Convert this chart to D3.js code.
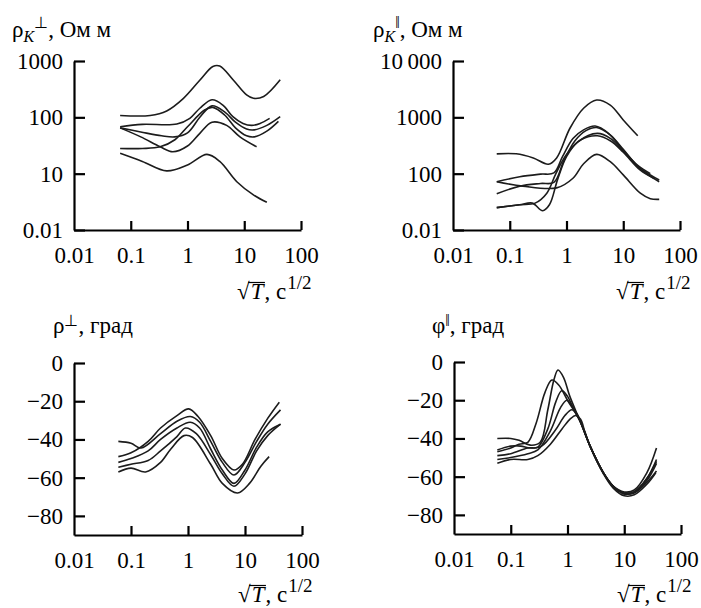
<!DOCTYPE html>
<html><head><meta charset="utf-8">
<script src="https://cdn.jsdelivr.net/npm/d3@7"></script>
</head><body style="margin:0;background:#fff">
<svg id="c" width="701" height="608"></svg>
<script>
// ---------- data ----------
const xTicks = [0.01, 0.1, 1, 10, 100];
const xTickLabels = ["0.01", "0.1", "1", "10", "100"];
const rhoPerpTicks = [1, 10, 100, 1000];
const rhoPerpTickLabels = ["0.01", "10", "100", "1000"];
const rhoParTicks = [10, 100, 1000, 10000];
const rhoParTickLabels = ["0.01", "100", "1000", "10\u2009000"];
const phaseTicks = [0, -20, -40, -60, -80];
const phaseTickLabels = ["0", "\u221220", "\u221240", "\u221260", "\u221280"];

// rho_K perpendicular (Ohm m) vs sqrt(T)
const rhoPerp1 = [[0.065,108],[0.22,108],[0.43,130],[0.84,215],[1.66,460],[2.8,800],[3.7,815],[6.4,460],[11,250],[14.5,218],[22,235],[43,465]];
const rhoPerp2 = [[0.065,68],[0.16,75],[0.65,76],[1.1,96],[1.65,145],[2.7,205],[4.2,165],[6.3,103],[9.5,78],[13.5,72],[19,78],[28,96]];
const rhoPerp3 = [[0.065,65],[0.15,55],[0.35,47],[0.6,45],[1.0,53],[1.65,100],[2.7,160],[4.5,125],[7,82],[11,62],[15,60],[25,72],[43,103]];
const rhoPerp4 = [[0.065,28],[0.16,28],[0.33,30],[0.6,40],[1.0,68],[2.0,135],[2.8,150],[4.5,110],[7,65],[11,47],[15,45],[25,57],[40,85]];
const rhoPerp5 = [[0.065,65],[0.15,45],[0.33,30],[0.55,24.5],[1.0,31],[1.65,52],[2.7,82],[4.9,72],[8.4,45],[16.5,30]];
const rhoPerp6 = [[0.065,23],[0.16,16.5],[0.43,11.2],[1.0,14.3],[2.2,22],[3.7,16.5],[7.4,7.2],[14.5,4.2],[25,3.1]];

// rho_K parallel (Ohm m)
const rhoPar1 = [[0.059,225],[0.13,225],[0.26,190],[0.48,147],[0.67,190],[1.15,640],[2.0,1450],[3.4,2030],[5.9,1650],[10,900],[18,470]];
const rhoPar2 = [[0.059,72],[0.15,88],[0.35,98],[0.6,103],[0.85,200],[1.3,420],[2,600],[3.2,700],[5.5,520],[10,260],[18,140],[30,100]];
const rhoPar3 = [[0.059,44],[0.15,60],[0.35,67],[0.6,70],[0.9,170],[1.4,380],[2.2,580],[3.4,660],[6,480],[10,270],[18,135],[30,95],[43,77]];
const rhoPar4 = [[0.059,25],[0.15,28],[0.25,30],[0.38,22],[0.5,28],[0.7,80],[1.0,200],[1.6,370],[3.5,520],[6,420],[10,250],[20,120],[43,72]];
const rhoPar5 = [[0.059,25],[0.15,28],[0.28,30],[0.45,45],[0.65,100],[1.0,220],[1.8,400],[3.5,470],[6,380],[10,240],[20,115],[35,82]];
const rhoPar6 = [[0.059,72],[0.17,60],[0.67,56],[1.3,83],[2.0,150],[3.4,220],[5.9,163],[10,95],[20,45],[30,36],[43,35]];

// phase perpendicular (deg)
const phiPerp1 = [[0.06,-49],[0.1,-47],[0.2,-41],[0.33,-34],[0.64,-27.5],[1.03,-24],[1.5,-28],[2.5,-38],[4,-50],[6.4,-56],[9,-53],[15,-40],[25,-29],[40,-20.5]];
const phiPerp2 = [[0.06,-41],[0.1,-42],[0.15,-44.5],[0.33,-37],[0.64,-30.5],[1.1,-28],[1.6,-31],[2.5,-41],[4,-52],[6.4,-58.6],[10,-52],[16,-41],[25,-32],[42,-24.5]];
const phiPerp3 = [[0.06,-52],[0.1,-50],[0.2,-46],[0.33,-40],[0.64,-34],[1.1,-31],[1.6,-34],[2.5,-45],[4,-56],[6.4,-63],[10,-56],[16,-44],[25,-36],[42,-32]];
const phiPerp4 = [[0.06,-54.5],[0.1,-53],[0.2,-51],[0.33,-46],[0.64,-38.5],[0.9,-34],[1.4,-37],[2.5,-48],[4,-58],[6.4,-64.5],[10,-58],[16,-46],[25,-38],[42,-32]];
const phiPerp5 = [[0.06,-57],[0.1,-55],[0.18,-57],[0.33,-52],[0.5,-45],[0.85,-38],[1.2,-39],[2.5,-53],[4,-63],[7.4,-68],[12,-63],[19,-54],[26.5,-49]];

// phase parallel (deg)
const phiPar1 = [[0.058,-40],[0.1,-40],[0.14,-41],[0.22,-43.5],[0.33,-42],[0.45,-25],[0.58,-9],[0.68,-4.2],[0.85,-8],[1.1,-18],[1.67,-31],[2.5,-44],[4.3,-58],[6.4,-65],[10,-68],[15,-67],[25,-58],[37,-45]];
const phiPar2 = [[0.058,-47],[0.1,-45],[0.14,-43],[0.2,-42],[0.28,-32],[0.4,-16],[0.53,-9.4],[0.7,-12],[1.0,-20],[1.67,-31],[2.5,-44],[4.3,-58],[6.4,-65.5],[10,-68.5],[15,-68],[25,-61],[37,-52]];
const phiPar3 = [[0.058,-49],[0.1,-48],[0.2,-45],[0.3,-44.5],[0.45,-35],[0.62,-21],[0.79,-15],[1.0,-18],[1.3,-25],[1.67,-31],[2.5,-44],[4.3,-58],[6.4,-65],[10,-69],[15,-68],[25,-61],[37,-51]];
const phiPar4 = [[0.058,-51],[0.1,-50],[0.2,-48],[0.3,-46],[0.5,-36],[0.75,-24],[0.97,-20],[1.2,-23],[1.67,-31],[2.5,-44],[4.3,-58.5],[6.4,-66],[10,-70],[15,-69.5],[25,-64],[36,-58]];
const phiPar5 = [[0.058,-46],[0.1,-44],[0.15,-44],[0.22,-45],[0.35,-44],[0.6,-36],[0.9,-28],[1.19,-25],[1.45,-27],[1.8,-33],[2.5,-44],[4.3,-58],[6.4,-65],[10,-69],[15,-68.5],[25,-63],[37,-57]];
const phiPar6 = [[0.058,-53],[0.1,-51],[0.2,-51],[0.3,-49],[0.5,-43],[0.8,-35],[1.1,-30],[1.4,-28],[1.7,-30],[2.0,-36],[2.5,-44],[4.3,-58],[6.4,-65],[10,-68.5],[15,-68],[25,-62],[37,-53]];

// titles (text segments)
const title1 = [{t:"ρ"},{t:"K",sub:1},{t:"⊥",sup:1},{t:", Ом м",back:1}];
const title2 = [{t:"ρ"},{t:"K",sub:1},{t:"‖",sup:1},{t:", Ом м",back:1}];
const title3 = [{t:"ρ"},{t:"⊥",sup2:1},{t:", град",back:1}];
const title4 = [{t:"φ"},{t:"‖",sup2:1},{t:", град",back:1}];

// ---------- layout ----------
const FONT = '"Liberation Serif"';
const FS = 23;
const panels = [
  {x0:74, x1:301, yTop:61, yBot:230, log:true, dom:[1,1000], ticks:rhoPerpTicks, labels:rhoPerpTickLabels,
   curves:[rhoPerp1,rhoPerp2,rhoPerp3,rhoPerp4,rhoPerp5,rhoPerp6], title:title1, tx:12, ty:37, lx:237, ly:299},
  {x0:453, x1:680, yTop:61, yBot:230, log:true, dom:[10,10000], ticks:rhoParTicks, labels:rhoParTickLabels,
   curves:[rhoPar1,rhoPar2,rhoPar3,rhoPar4,rhoPar5,rhoPar6], title:title2, tx:373, ty:37, lx:616, ly:299},
  {x0:74, x1:302, yTop:363, yBot:535, log:false, dom:[-90,0], ticks:phaseTicks, labels:phaseTickLabels,
   curves:[phiPerp1,phiPerp2,phiPerp3,phiPerp4,phiPerp5], title:title3, tx:53, ty:333, lx:238, ly:602},
  {x0:454, x1:681, yTop:362, yBot:534, log:false, dom:[-90,0], ticks:phaseTicks, labels:phaseTickLabels,
   curves:[phiPar1,phiPar2,phiPar3,phiPar4,phiPar5,phiPar6], title:title4, tx:432, ty:333, lx:617, ly:602}
];

const svg = d3.select("#c");

panels.forEach(p => {
  const g = svg.append("g");
  const xs = d3.scaleLog().domain([0.01,100]).range([p.x0,p.x1]);
  const ys = (p.log ? d3.scaleLog() : d3.scaleLinear()).domain(p.dom).range([p.yBot,p.yTop]);

  const line = d3.line().x(d=>xs(d[0])).y(d=>ys(d[1])).curve(d3.curveCatmullRom.alpha(0.5));
  g.append("g").selectAll("path").data(p.curves).join("path")
    .attr("d", line).attr("fill","none").attr("stroke","#1c1c1c").attr("stroke-width",1.6);

  const xa = g.append("g").attr("transform",`translate(0,${p.yBot})`)
    .call(d3.axisBottom(xs).tickValues(xTicks).tickFormat(d=>xTickLabels[xTicks.indexOf(d)])
      .tickSizeInner(-9).tickSizeOuter(0).tickPadding(17));
  const ya = g.append("g").attr("transform",`translate(${p.x0},0)`)
    .call(d3.axisLeft(ys).tickValues(p.ticks).tickFormat(d=>p.labels[p.ticks.indexOf(d)])
      .tickSizeInner(-11).tickSizeOuter(0).tickPadding(11));
  [xa,ya].forEach(a=>{
    a.attr("font-family",null).attr("font-size",null);
    a.selectAll("path,line").attr("stroke","#000").attr("stroke-width",2.2);
    a.selectAll("text").attr("fill","#000").attr("font-size",FS).style("font-family",FONT);
  });
  xa.selectAll(".tick").filter(d=>d===0.01).select("line").remove();

  // title
  const t = g.append("text").attr("x",p.tx).attr("y",p.ty).attr("font-size",FS)
    .style("font-family",FONT).attr("fill","#000");
  p.title.forEach(s=>{
    const ts = t.append("tspan").text(s.t);
    if (s.sub) ts.attr("font-size",16).attr("font-style","italic").attr("dy",5);
    else if (s.sup) ts.attr("font-size",16).attr("dy",-14);
    else if (s.sup2) ts.attr("font-size",16).attr("dy",-7);
    else if (s.back) ts.attr("y",p.ty);
  });

  // x label: sqrt(T), c^{1/2}
  const xl = g.append("text").attr("x",p.lx).attr("y",p.ly).attr("font-size",FS)
    .style("font-family",FONT).attr("fill","#000");
  xl.append("tspan").text("√");
  xl.append("tspan").attr("font-style","italic").attr("dx",1).text("T");
  xl.append("tspan").attr("dx",1).text(", c");
  xl.append("tspan").attr("font-size",19).attr("dx",1).attr("dy",-10).text("1/2");
  const n = xl.node();
  const a0 = n.getEndPositionOfChar(0).x - 1.5, a1 = n.getEndPositionOfChar(1).x + 1.5;
  g.append("line").attr("x1",a0).attr("x2",a1).attr("y1",p.ly-16.5).attr("y2",p.ly-16.5)
    .attr("stroke","#000").attr("stroke-width",1.2);
});
</script></body></html>
